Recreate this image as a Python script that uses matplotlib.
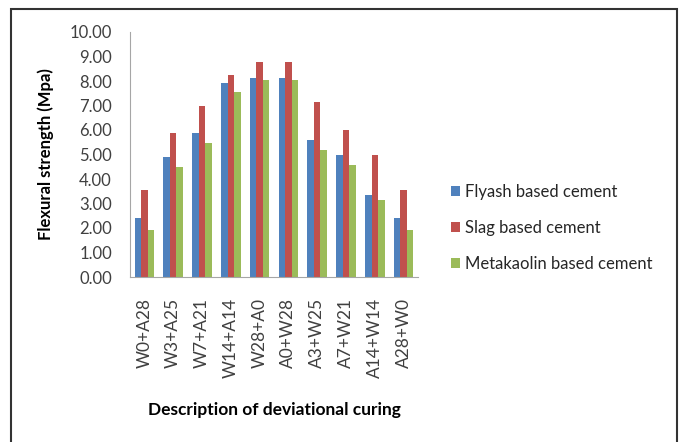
import numpy as np
import matplotlib.pyplot as plt
from matplotlib.patches import Rectangle

# flexural strength (MPa) for each curing regime
curing = ['W0+A28', 'W3+A25', 'W7+A21', 'W14+A14', 'W28+A0',
          'A0+W28', 'A3+W25', 'A7+W21', 'A14+W14', 'A28+W0']
flyash = [2.40, 4.90, 5.88, 7.92, 8.12, 8.12, 5.58, 4.99, 3.36, 2.40]
slag = [3.57, 5.88, 7.00, 8.26, 8.77, 8.77, 7.13, 5.98, 4.99, 3.57]
metakaolin = [1.90, 4.49, 5.47, 7.54, 8.05, 8.05, 5.17, 4.58, 3.13, 1.90]

series = [('Flyash based cement', flyash, '#4F81BD'),
          ('Slag based cement', slag, '#C0504D'),
          ('Metakaolin based cement', metakaolin, '#9BBB59')]

plt.rcParams['font.family'] = ['Lato', 'DejaVu Sans']

fig = plt.figure(figsize=(6.8, 4.42), dpi=100)
ax = fig.add_axes([130 / 680, 1 - 277 / 442, 288 / 680, 245 / 442])

x = np.arange(len(curing))
w = 0.225
for i, (name, vals, col) in enumerate(series):
    ax.bar(x + (i - 1) * w, vals, w, color=col, label=name)

ax.set_xlim(-0.5, len(curing) - 0.5)
ax.set_ylim(0, 10)
ax.set_yticks(np.arange(0, 11, 1))
ax.set_yticklabels([f'{v:.2f}' for v in np.arange(0, 11, 1)], fontsize=12)
ax.set_xticks(x)
ax.set_xticklabels(curing, rotation=90, fontsize=12.5)
ax.tick_params(length=0, colors='#404040')
ax.tick_params(axis='y', pad=13)
ax.tick_params(axis='x', pad=15)

for s in ['top', 'right']:
    ax.spines[s].set_visible(False)
for s in ['left', 'bottom']:
    ax.spines[s].set_color('#a6a6a6')

ax.set_ylabel('Flexural strength (Mpa)', fontsize=12, fontweight='bold', labelpad=11)
ax.set_xlabel('Description of deviational curing', fontsize=12.5, fontweight='bold', labelpad=17)

fig.legend(loc='center left', bbox_to_anchor=(436 / 680, 1 - 228 / 442),
           frameon=False, fontsize=12, handlelength=0.55, handleheight=0.55,
           handletextpad=0.3, labelspacing=1.2, labelcolor='#262626')

# outer frame around the chart
fig.patches.append(Rectangle((11 / 680, -0.05), 666 / 680, 1.05 - 9 / 442,
                             transform=fig.transFigure, fill=False,
                             edgecolor='#333333', linewidth=1.5))

fig.savefig('out.png', dpi=100)
